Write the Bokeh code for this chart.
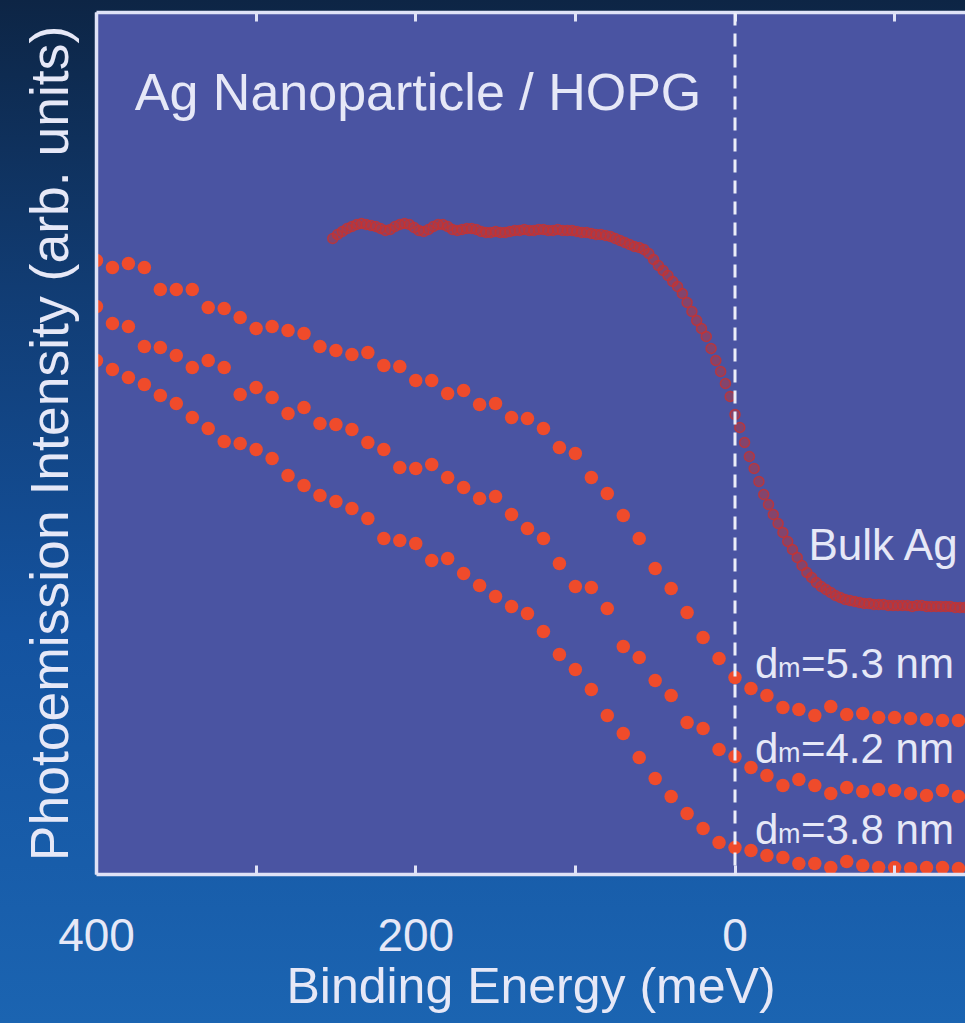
from bokeh.plotting import figure
from bokeh.models import Range1d, LinearAxis, FixedTicker, Span, Label, ColumnDataSource
from bokeh.embed import file_html
from bokeh.resources import INLINE

# Binding energy grid of the nanoparticle spectra (meV)
energy_np = list(range(400, -150, -10))

# Photoemission intensity (arb. units) for three mean particle sizes
intensity_53nm = [614, 607, 611, 607, 585, 585, 585, 567, 566, 557,
                  546, 548, 544, 541, 528, 524, 520, 522, 509, 508,
                  494, 494, 481, 484, 470, 471, 457, 456, 446, 427,
                  421, 397, 381, 359, 336, 306, 286, 262, 237, 216,
                  197, 186, 179, 167, 165, 159, 168, 160, 161, 157,
                  157, 156, 155, 154, 154]
intensity_42nm = [568, 551, 548, 528, 527, 519, 507, 514, 507, 480,
                  487, 477, 461, 467, 451, 450, 445, 432, 425, 407,
                  406, 410, 397, 387, 376, 378, 360, 346, 336, 311,
                  288, 287, 266, 228, 217, 194, 179, 152, 146, 125,
                  118, 107, 99, 89, 95, 89, 81, 87, 83, 85,
                  84, 81, 79, 84, 78]
intensity_38nm = [514, 505, 497, 490, 479, 471, 457, 446, 433, 431,
                  425, 416, 399, 389, 379, 373, 366, 356, 336, 334,
                  331, 314, 316, 301, 289, 278, 268, 261, 243, 220,
                  205, 185, 159, 141, 117, 96, 78, 61, 46, 32,
                  27, 24, 19, 17, 11, 11, 7, 13, 9, 7,
                  7, 6, 7, 7, 6]

# Bulk Ag reference spectrum (finer energy step)
energy_bulk = list(range(252, -145, -3))
intensity_bulk = [636, 640, 643, 646, 648, 650, 651, 650, 649, 648,
                  646, 644, 645, 648, 650, 651, 650, 647, 644, 643,
                  645, 648, 650, 650, 648, 645, 644, 645, 646, 646,
                  645, 643, 642, 642, 643, 642, 642, 643, 644, 644,
                  645, 644, 644, 645, 645, 644, 644, 645, 644, 644,
                  644, 643, 642, 642, 641, 640, 640, 639, 638, 636,
                  634, 632, 630, 628, 627, 625, 621, 615, 609, 604,
                  599, 593, 588, 581, 572, 563, 554, 546, 538, 526,
                  514, 503, 491, 478, 460, 447, 432, 418, 406, 393,
                  380, 370, 360, 351, 342, 333, 325, 317, 309, 302,
                  297, 292, 288, 285, 282, 279, 277, 275, 274, 273,
                  272, 271, 271, 270, 270, 270, 269, 269, 269, 269,
                  269, 268, 269, 269, 268, 268, 268, 268, 268, 268,
                  267, 267, 267]

major_ticks = [400, 200, 0]
minor_ticks = [300, 100, -100]

FONT = "Liberation Sans"
TEXT = "#e6e8f7"
LINE = "#dfe2f6"
DOT = "#ef4b2b"
BULK = "#c8322f"

p = figure(width=965, height=1023,
           x_range=Range1d(400, -144.4), y_range=Range1d(0, 862),
           x_axis_location=None, y_axis_location=None,
           output_backend="svg", toolbar_location=None,
           min_border_left=96, min_border_right=0,
           min_border_top=12, min_border_bottom=149)
p.background_fill_color = "#4a54a2"
p.border_fill_color = None
p.outline_line_color = None
p.grid.visible = False
p.styles = {"background": "linear-gradient(180deg, #0d2545 0%, #113c73 28%, #1453a0 62%, #1b64b1 100%)"}


def style_axis(ax):
    ax.axis_line_color = LINE
    ax.axis_line_width = 3.5
    ax.major_tick_line_color = LINE
    ax.minor_tick_line_color = LINE
    ax.major_tick_line_width = 3
    ax.minor_tick_line_width = 3
    ax.major_tick_in = 9
    ax.major_tick_out = 0
    ax.minor_tick_in = 9
    ax.minor_tick_out = 0
    ax.major_label_text_font = FONT
    ax.major_label_text_color = TEXT
    ax.axis_label_text_font = FONT
    ax.axis_label_text_color = TEXT
    ax.axis_label_text_font_style = "normal"


bottom = LinearAxis(ticker=FixedTicker(ticks=major_ticks, minor_ticks=minor_ticks),
                    axis_label="Binding Energy (meV)")
style_axis(bottom)
bottom.major_label_text_font_size = "46px"
bottom.major_label_standoff = 44
bottom.axis_label_text_font_size = "50px"
bottom.axis_label_standoff = 4
p.add_layout(bottom, "below")

top = LinearAxis(ticker=FixedTicker(ticks=major_ticks, minor_ticks=minor_ticks))
style_axis(top)
top.major_label_text_font_size = "0px"
top.major_label_text_color = None
top.major_label_standoff = 0
p.add_layout(top, "above")

left = LinearAxis(ticker=FixedTicker(ticks=[]),
                  axis_label="Photoemission Intensity (arb. units)")
style_axis(left)
left.major_label_text_font_size = "0px"
left.major_label_text_color = None
left.axis_label_text_font_size = "53.5px"
left.axis_label_standoff = 18
p.add_layout(left, "left")

# Fermi level
p.add_layout(Span(location=0, dimension="height", line_color="#eceef9",
                  line_width=3, line_dash="13 8"))

bulk_src = ColumnDataSource(data=dict(e=energy_bulk, i=intensity_bulk))
p.scatter("e", "i", source=bulk_src, size=10, marker="circle",
          fill_color=BULK, fill_alpha=0.45, line_color=BULK, line_alpha=0.8, line_width=1.5)

np_src = ColumnDataSource(data=dict(e=energy_np, a=intensity_53nm, b=intensity_42nm, c=intensity_38nm))
for col in ("a", "b", "c"):
    p.scatter("e", col, source=np_src, size=13.5, marker="circle",
              fill_color=DOT, line_color=None)

p.add_layout(Label(x=376, y=783, text="Ag Nanoparticle / HOPG",
                   text_font=FONT, text_font_size="52px", text_color=TEXT,
                   text_baseline="alphabetic"))
p.add_layout(Label(x=-46, y=330, text="Bulk Ag",
                   text_font=FONT, text_font_size="44px", text_color=TEXT,
                   text_baseline="alphabetic"))

for size_text, y_base in (("5.3", 211), ("4.2", 126), ("3.8", 45)):
    p.add_layout(Label(x=-12.5, y=y_base, text="d", text_font=FONT,
                       text_font_size="42px", text_color=TEXT, text_baseline="alphabetic"))
    p.add_layout(Label(x=-12.5, y=y_base, text="m", x_offset=23, y_offset=-4, text_font=FONT,
                       text_font_size="27px", text_color=TEXT, text_baseline="alphabetic"))
    p.add_layout(Label(x=-12.5, y=y_base, text="=" + size_text + " nm", x_offset=46, text_font=FONT,
                       text_font_size="42px", text_color=TEXT, text_baseline="alphabetic"))

open("out.html", "w").write(file_html(p, INLINE))
